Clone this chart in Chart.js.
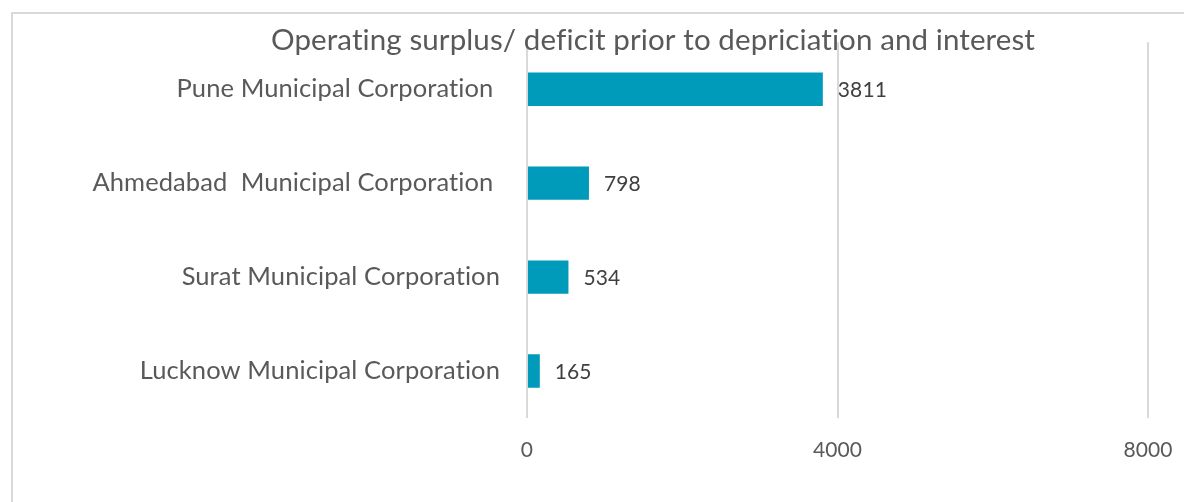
<!DOCTYPE html>
<html>
<head>
<meta charset="utf-8">
<script src="https://cdn.jsdelivr.net/npm/chart.js@4/dist/chart.umd.min.js"></script>
<style>
  html, body { margin: 0; padding: 0; background: #fff; overflow: hidden; }
  #wrap { position: relative; width: 1184px; height: 502px; }
  #frame { position: absolute; left: 11px; top: 12px; width: 1400px; height: 700px; border: 2px solid #d9d9d9; }
  canvas { position: absolute; left: 0; top: 0; }
</style>
</head>
<body>
<div id="wrap">
  <div id="frame"></div>
  <canvas id="surplusChart" width="1184" height="502"></canvas>
</div>
<script>
// categories and values
var corporaciones = [
    'Pune Municipal Corporation ',
    'Ahmedabad  Municipal Corporation ',
    'Surat Municipal Corporation',
    'Lucknow Municipal Corporation'
];
var superavit = [3811, 798, 534, 165];
var ticksX = [0, 4000, 8000];
var titulo = 'Operating surplus/ deficit prior to depriciation and interest';

var FUENTE = 'Lato, "Open Sans", sans-serif';
var GRIS = '#595959';

// a tiny letter spacing keeps Lato from joining "ti"
var sinLigaduras = {
    id: 'sinLigaduras',
    beforeDraw: function (chart) {
        chart.ctx.letterSpacing = '0.1px';
    }
};

// draws the value at the end of each bar
var etiquetasValor = {
    id: 'etiquetasValor',
    afterDatasetsDraw: function (chart) {
        var ctx = chart.ctx;
        var meta = chart.getDatasetMeta(0);
        ctx.save();
        ctx.font = '21px ' + FUENTE;
        ctx.fillStyle = '#404040';
        ctx.textAlign = 'left';
        ctx.textBaseline = 'middle';
        meta.data.forEach(function (bar, i) {
            ctx.fillText(String(superavit[i]), bar.x + 15, bar.y + 1);
        });
        ctx.restore();
    }
};

// title sits over the top of the plot, like the original
var tituloPlugin = {
    id: 'tituloPlugin',
    afterDraw: function (chart) {
        var ctx = chart.ctx;
        ctx.save();
        ctx.font = '29.5px ' + FUENTE;
        ctx.fillStyle = GRIS;
        ctx.textAlign = 'center';
        ctx.textBaseline = 'middle';
        ctx.fillText(titulo, 653, 40);
        ctx.restore();
    }
};

document.addEventListener('DOMContentLoaded', function () {
    var ctx = document.getElementById('surplusChart').getContext('2d');

    new Chart(ctx, {
        type: 'bar',
        data: {
            labels: corporaciones,
            datasets: [{
                label: titulo,
                data: superavit,
                backgroundColor: '#009aba',
                categoryPercentage: 1,
                barPercentage: 0.355
            }]
        },
        options: {
            indexAxis: 'y',
            responsive: false,
            animation: false,
            layout: { padding: { top: 42, right: 36, bottom: 40, left: 0 } },
            plugins: {
                legend: { display: false },
                tooltip: { enabled: false }
            },
            scales: {
                x: {
                    min: 0,
                    max: 8000,
                    afterBuildTicks: function (axis) {
                        axis.ticks = ticksX.map(function (v) { return { value: v }; });
                    },
                    afterFit: function (axis) {
                        axis.height = 44;
                        axis.paddingLeft = 0;
                        axis.paddingRight = 0;
                    },
                    grid: { color: '#d9d9d9', lineWidth: 2, drawTicks: false },
                    border: { display: false },
                    ticks: {
                        padding: 20,
                        color: GRIS,
                        font: { family: FUENTE, size: 21 },
                        callback: function (v) { return String(v); }
                    }
                },
                y: {
                    afterFit: function (axis) { axis.width = 527; },
                    grid: { display: false, drawTicks: false },
                    border: { display: false },
                    ticks: {
                        padding: 27,
                        color: GRIS,
                        font: { family: FUENTE, size: 25.5 }
                    }
                }
            }
        },
        plugins: [sinLigaduras, etiquetasValor, tituloPlugin]
    });
});
</script>
</body>
</html>
